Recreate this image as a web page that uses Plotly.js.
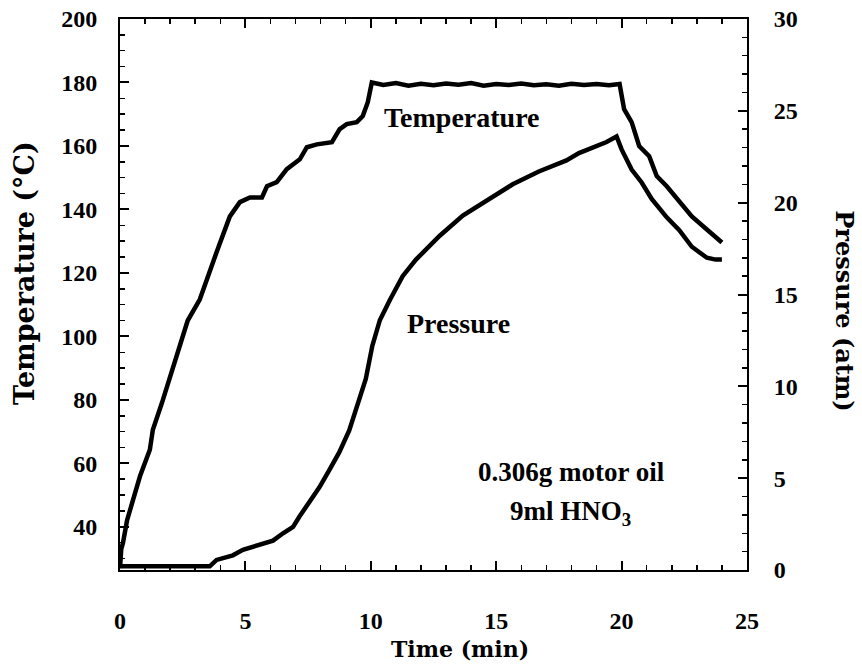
<!DOCTYPE html>
<html><head><meta charset="utf-8">
<script src="https://cdn.plot.ly/plotly-3.0.1.min.js"></script>
<style>html,body{margin:0;padding:0;background:#fff}#chart{width:862px;height:667px}</style>
</head><body><div id="chart"></div>
<script>
// Temperature (°C) vs time (min), left axis
const tempTime = [0, 0.05, 0.12, 0.28, 0.52, 0.8, 1.19, 1.31, 1.67, 1.99, 2.38, 2.7, 3.18, 3.58, 3.85, 4.38, 4.78, 5.18, 5.66, 5.86, 6.25, 6.65, 7.17, 7.45, 7.85, 8.45, 8.76, 9.04, 9.44, 9.68, 9.88, 10.04,
  10.5, 11, 11.5, 12, 12.5, 13, 13.5, 14, 14.5, 15, 15.5, 16, 16.5, 17, 17.5, 18, 18.5, 19, 19.5, 19.92,
  20.1, 20.4, 20.7, 21.1, 21.4, 21.8, 22.3, 22.8, 23.4, 23.9, 24.0];
const tempVals = [27, 33, 35, 42, 48.5, 56, 64.3, 70.6, 79, 87.3, 96.8, 105, 111.6, 121, 126.5, 137.8, 142.3, 143.8, 143.8, 147.3, 148.6, 152.7, 155.8, 159.6, 160.5, 161.2, 165.3, 166.9, 167.5, 169.4, 173.8, 180,
  179.2, 179.8, 179.0, 179.6, 179.1, 179.7, 179.3, 179.8, 179.0, 179.5, 179.2, 179.7, 179.1, 179.4, 179.0, 179.6, 179.2, 179.5, 179.1, 179.5,
  171.6, 167.5, 160, 156.8, 150.5, 147.3, 142.3, 137.8, 133.7, 130, 129.6];

// Pressure (atm) vs time (min), right axis
const presTime = [0, 1, 2, 3, 3.58, 3.85, 4.5, 4.9, 5.56, 6.1, 6.5, 6.9, 7.15, 7.55, 7.95, 8.35, 8.74, 9.14, 9.54, 9.8, 10.06, 10.36, 10.76, 11.27, 11.8, 12.75, 13.67, 14.6, 15.66, 16.7, 17.8, 18.3, 19.4, 19.8,
  20.0, 20.4, 20.8, 21.2, 21.8, 22.3, 22.8, 23.4, 23.75, 24.0];
const presVals = [0.2, 0.2, 0.2, 0.2, 0.2, 0.55, 0.8, 1.1, 1.36, 1.6, 2.0, 2.35, 2.9, 3.65, 4.5, 5.45, 6.4, 7.6, 9.3, 10.4, 12.2, 13.6, 14.7, 16.0, 16.9, 18.2, 19.3, 20.1, 21.0, 21.7, 22.3, 22.7, 23.3, 23.6,
  22.9, 21.8, 21.1, 20.2, 19.2, 18.5, 17.6, 17.0, 16.9, 16.9];

const xRange = [0, 25];
const tempRange = [26.4, 200];
const presRange = [0, 30];

const serif = 'Liberation Serif, Times New Roman, serif';
const wide = 'DejaVu Serif, serif';
const tickFont = {family: serif, size: 24, color: '#000', weight: 'bold'};
const noteFont = {family: serif, size: 28, color: '#000', weight: 'bold'};

const traces = [
  {x: tempTime, y: tempVals, type: 'scatter', mode: 'lines', name: 'Temperature', yaxis: 'y',
   line: {color: '#000', width: 4.5}},
  {x: presTime, y: presVals, type: 'scatter', mode: 'lines', name: 'Pressure', yaxis: 'y2',
   line: {color: '#000', width: 4.5}}
];

const axisCommon = {
  showgrid: false, zeroline: false, showline: true, linecolor: '#000', linewidth: 2,
  ticks: 'inside', ticklen: 9, tickwidth: 2, tickcolor: '#000', tickfont: tickFont
};

const layout = {
  width: 862, height: 667,
  margin: {l: 120, r: 115, t: 19, b: 97},
  paper_bgcolor: '#fff', plot_bgcolor: '#fff',
  showlegend: false,
  xaxis: Object.assign({}, axisCommon, {
    range: xRange, dtick: 5, tick0: 0, mirror: 'ticks', ticklabelstandoff: 28,
    minor: {dtick: 1, ticks: 'inside', ticklen: 5, tickwidth: 1.5, tickcolor: '#000'}
  }),
  yaxis: Object.assign({}, axisCommon, {
    range: tempRange, dtick: 20, tick0: 0, ticklabelstandoff: 16,
    minor: {dtick: 5, ticks: 'inside', ticklen: 5, tickwidth: 1.5, tickcolor: '#000'}
  }),
  yaxis2: Object.assign({}, axisCommon, {
    range: presRange, dtick: 5, tick0: 0, overlaying: 'y', side: 'right', ticklabelstandoff: 20,
    minor: {dtick: 1, ticks: 'inside', ticklen: 5, tickwidth: 1.5, tickcolor: '#000'}
  }),
  annotations: [
    {text: 'Temperature', x: 13.64, y: 169.1, xref: 'x', yref: 'y', showarrow: false, font: noteFont},
    {text: 'Pressure', x: 13.5, y: 13.4, xref: 'x', yref: 'y2', showarrow: false, font: noteFont},
    {text: '0.306g motor oil', x: 18.0, y: 57.4, xref: 'x', yref: 'y', showarrow: false, font: {family: serif, size: 27, color: '#000', weight: 'bold'}},
    {text: '9ml HNO<sub>3</sub>', x: 17.95, y: 44.5, xref: 'x', yref: 'y', showarrow: false, font: {family: serif, size: 27, color: '#000', weight: 'bold'}},
    {text: 'Temperature (°C)', x: -0.153, y: 0.539, xref: 'paper', yref: 'paper', xanchor: 'center', yanchor: 'middle',
     showarrow: false, textangle: -90, font: {family: wide, size: 27, color: '#000', weight: 'bold'}},
    {text: 'Pressure (atm)', x: 1.156, y: 0.47, xref: 'paper', yref: 'paper', xanchor: 'center', yanchor: 'middle',
     showarrow: false, textangle: 90, font: {family: wide, size: 24, color: '#000', weight: 'bold'}},
    {text: 'Time (min)', x: 0.542, y: -0.143, xref: 'paper', yref: 'paper', xanchor: 'center', yanchor: 'middle',
     showarrow: false, font: {family: wide, size: 22, color: '#000', weight: 'bold'}}
  ]
};

Plotly.newPlot('chart', traces, layout, {displayModeBar: false, staticPlot: true});
</script></body></html>
